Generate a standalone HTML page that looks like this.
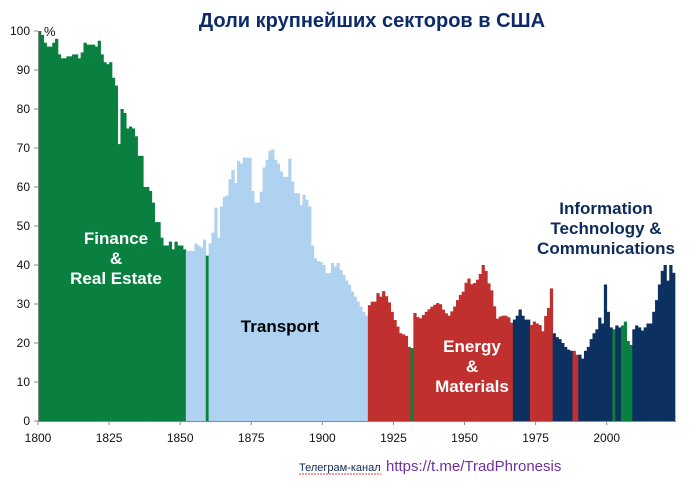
<!DOCTYPE html>
<html><head><meta charset="utf-8"><style>
body{margin:0;background:#fff;width:700px;height:483px;overflow:hidden;font-family:"Liberation Sans",sans-serif}
</style></head><body>
<svg id="s" width="700" height="483" xmlns="http://www.w3.org/2000/svg" font-family="Liberation Sans, Noto Sans CJK SC, sans-serif">
<text x="372" y="27" text-anchor="middle" font-size="20" font-weight="bold" fill="#0d2a6b">Доли крупнейших секторов в США</text>
<text x="44" y="36" font-size="13" fill="#111">%</text>
<g id="bars"></g>
<g id="axes" stroke="#888" stroke-width="1"></g>
<g font-size="12" fill="#111" id="labels"></g>
<g font-weight="bold" font-size="17" text-anchor="middle">
<text x="116" y="244" fill="#fff">Finance</text>
<text x="116" y="264" fill="#fff">&amp;</text>
<text x="116" y="284" fill="#fff">Real Estate</text>
<text x="280" y="332" fill="#000">Transport</text>
<text x="472" y="352" fill="#fff">Energy</text>
<text x="472" y="372" fill="#fff">&amp;</text>
<text x="472" y="392" fill="#fff">Materials</text>
<text x="606" y="214" fill="#0d2a5a">Information</text>
<text x="606" y="234" fill="#0d2a5a">Technology &amp;</text>
<text x="606" y="254" fill="#0d2a5a">Communications</text>
</g>
<text x="299" y="471" font-size="11" fill="#0d2a5a">Телеграм-канал</text>
<line x1="299" y1="474" x2="381" y2="474" stroke="#e33" stroke-width="1" stroke-dasharray="2,1"/>
<text x="386" y="471" font-size="15" fill="#7030a0">https://t.me/TradPhronesis</text>
</svg>
<script>
var NS="http://www.w3.org/2000/svg";
var X0=38,PX=2.8435,Y0=421,PY=3.9;
var fin=[100,99,97,96,96,97,98,94,93,93,93.5,93.5,94,94,93,94.5,97,96.5,96.5,96.5,96,97.5,94,92,91.5,92,88,86,71,80,79,75,75.5,75,73,68,68,60,60,59,56,51,51,47,45,45,46,44,46,45,45,44];
var tr=[43.6,43.6,43.6,45.5,45,44.5,46.5,42.4,45.5,48.3,54.7,47,55,57.5,57.8,62,64.4,61,66.7,66,67.6,67.5,67.5,59,56,56,58.8,65,67,69.3,69.6,67,66,64,62.6,62.6,67.3,61.4,58.4,58.4,55.4,58,56.7,55,45,41.7,41,40.8,40,37.9,37.9,40.5,39.6,40.5,38.7,37.4,36,34.9,33.2,31.9,30.6,29.3,28,27];
var en1=[29.7,30.6,30.6,32.8,31.9,33.3,32,30.4,28,25.9,24.2,22.5,22.2,21.8,19,18.7];
var kp=[[1932,27.7],[1933.6,26],[1936,28],[1938.3,29.5],[1940.6,30.5],[1942.4,28],[1944,27],[1945.8,29],[1947.6,32],[1949.4,33.5],[1950.6,37.4],[1951.7,35],[1953.5,35.5],[1955.2,38],[1956.4,41],[1957.6,36],[1959.4,32.8],[1960.6,26],[1962.4,27],[1964.7,27],[1966.5,24.5]];
function interp(y){for(var i=0;i<kp.length-1;i++){if(y>=kp[i][0]&&y<=kp[i+1][0]){var t=(y-kp[i][0])/(kp[i+1][0]-kp[i][0]);return kp[i][1]+t*(kp[i+1][1]-kp[i][1]);}}return kp[kp.length-1][1];}
var en2=[];for(var y=1932;y<=1966;y++)en2.push(interp(y));
var rest=[26,27,28.6,27,26,26, 24.6,25.5,25,24.6,23,26.9,29,34, 22.5,21.5,21,20,19,18.3,18, 18,17, 17,16,18,19,21,22.5,23.5,26.5,25,35,28,24, 23.5, 24.5,24, 24.5,25.5,20.5,19.5, 23.5,24.5,24,23.2,24,25,25,28,31,35,38.5,40,36,40,38];
var vals=fin.concat(tr,en1,en2,rest);
var G="#0a8040",B="#aed2ef",R="#c0302f",N="#0c3160";
function col(y){
 if(y<=1851)return G; if(y==1859)return G; if(y<=1915)return B;
 if(y==1931)return G; if(y<=1966)return R; if(y<=1972)return N; if(y<=1980)return R;
 if(y<=1987)return N; if(y<=1989)return R; if(y<=2001)return N; if(y==2002)return G;
 if(y<=2004)return N; if(y<=2008)return G; return N;}
var g=document.getElementById("bars");
for(var i=0;i<vals.length&&i<224;i++){var yr=1800+i;var r=document.createElementNS(NS,"rect");
 var x=X0+i*PX, h=vals[i]*PY;
 r.setAttribute("x",x.toFixed(2));r.setAttribute("width",(PX+0.4).toFixed(2));
 r.setAttribute("y",(Y0-h).toFixed(2));r.setAttribute("height",h.toFixed(2));r.setAttribute("fill",col(yr));g.appendChild(r);}
var a=document.getElementById("axes"),L=document.getElementById("labels");
function ln(x1,y1,x2,y2){var l=document.createElementNS(NS,"line");l.setAttribute("x1",x1);l.setAttribute("y1",y1);l.setAttribute("x2",x2);l.setAttribute("y2",y2);a.appendChild(l);}
function tx(x,y,s,anc){var t=document.createElementNS(NS,"text");t.setAttribute("x",x);t.setAttribute("y",y);t.setAttribute("text-anchor",anc);t.textContent=s;L.appendChild(t);}
ln(38.5,31,38.5,421);ln(38,421.5,676,421.5);
for(var v=0;v<=100;v+=10){var yy=Y0-v*PY;ln(34,yy,38,yy);tx(30,yy+4,v,"end");}
for(var yr=1800;yr<=2000;yr+=25){var xx=X0+(yr-1800)*PX;ln(xx,421,xx,425);tx(xx,442,yr,"middle");}
</script>
</body></html>
